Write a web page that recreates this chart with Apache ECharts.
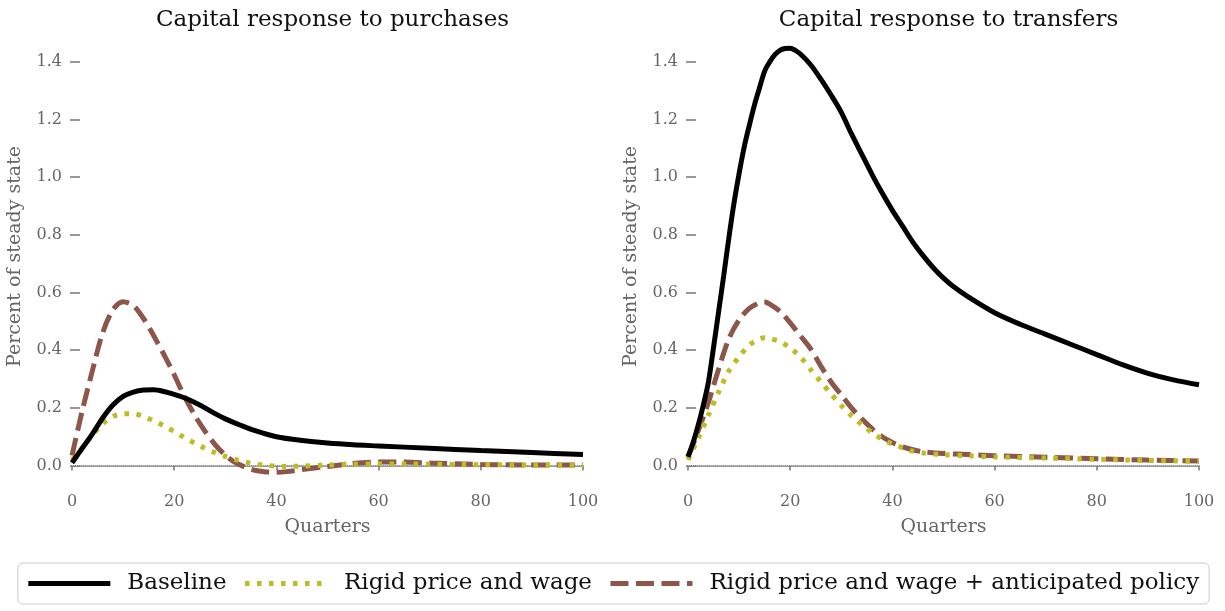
<!DOCTYPE html>
<html>
<head>
<meta charset="utf-8">
<script src="https://cdn.jsdelivr.net/npm/echarts@6/dist/echarts.min.js"></script>
<style>html,body{margin:0;padding:0;background:#fff}#c{width:1225px;height:611px}</style>
</head>
<body>
<div id="c"></div>
<script>
// ---- Data (Quarters, percent of steady state) ----
const seriesNames = ['Baseline', 'Rigid price and wage', 'Rigid price and wage + anticipated policy'];
const panelTitles = ['Capital response to purchases', 'Capital response to transfers'];
const yTicks = [0, 0.2, 0.4, 0.6, 0.8, 1.0, 1.2, 1.4];

// Left panel: purchases
const purchBaseQ = [0,2,4,6,8,10,12,14,16,18,20,22,25,28,30,33,36,40,45,50,55,60,70,80,90,100];
const purchBaseV = [0.01,0.06,0.11,0.165,0.21,0.24,0.255,0.262,0.263,0.257,0.247,0.235,0.21,0.18,0.162,0.14,0.12,0.10,0.087,0.078,0.072,0.068,0.06,0.052,0.045,0.038];
const purchRigidQ = [0,2,4,6,8,10,12,14,16,18,20,22,24,26,28,30,32,34,36,38,40,42,45,50,55,60,70,80,90,100];
const purchRigidV = [0.02,0.06,0.105,0.145,0.17,0.18,0.18,0.17,0.155,0.138,0.118,0.097,0.078,0.06,0.045,0.032,0.021,0.012,0.005,0.001,-0.002,-0.003,-0.002,0.002,0.005,0.006,0.005,0.003,0.002,0.001];
const purchAntQ = [0,2,4,6,8,10,12,14,16,18,20,22,24,26,28,30,32,34,36,38,40,42,45,50,55,60,65,70,80,90,100];
const purchAntV = [0.035,0.19,0.33,0.46,0.54,0.568,0.555,0.51,0.45,0.385,0.315,0.24,0.175,0.12,0.073,0.036,0.01,-0.006,-0.017,-0.022,-0.023,-0.021,-0.014,-0.003,0.007,0.012,0.012,0.009,0.004,0.002,0.002];

// Right panel: transfers
const transBaseQ = [0,1,2,3,4,5,6,7,8,9,10,11,12,13,14,15,16,17,18,19,20,21,22,24,26,28,30,32,34,36,38,40,42,44,46,48,50,52,55,60,65,70,75,80,85,90,95,100];
const transBaseV = [0.03,0.08,0.14,0.21,0.29,0.41,0.535,0.66,0.79,0.91,1.013,1.105,1.18,1.25,1.31,1.368,1.40,1.425,1.44,1.446,1.447,1.44,1.427,1.39,1.34,1.285,1.225,1.15,1.08,1.01,0.945,0.885,0.83,0.775,0.728,0.686,0.65,0.62,0.583,0.53,0.49,0.455,0.42,0.385,0.35,0.32,0.297,0.28];
const transRigidQ = [0,2,4,6,8,10,12,14,15,16,18,20,22,24,26,28,30,32,34,36,38,40,42,44,46,50,55,60,70,80,90,100];
const transRigidV = [0.02,0.095,0.175,0.255,0.328,0.377,0.418,0.44,0.443,0.44,0.43,0.408,0.377,0.333,0.29,0.249,0.208,0.173,0.143,0.114,0.092,0.075,0.062,0.05,0.044,0.038,0.034,0.03,0.026,0.022,0.018,0.015];
const transAntQ = [0,2,4,6,8,10,12,14,15,16,18,20,22,24,26,28,30,32,34,36,38,40,42,44,46,50,55,60,70,80,90,100];
const transAntV = [0.03,0.12,0.22,0.335,0.44,0.505,0.545,0.565,0.567,0.56,0.535,0.495,0.45,0.405,0.345,0.29,0.245,0.2,0.162,0.128,0.1,0.08,0.065,0.055,0.048,0.042,0.038,0.034,0.029,0.024,0.019,0.016];

// ---- Build ----
const zip = (q, v) => q.map((x, i) => [x, v[i]]);
const FONT = 'DejaVu Serif';
const GREY = '#666';
const colors = ['#000000', '#bcbd22', '#8c564b'];
const lineStyles = [
  { width: 5, type: 'solid' },
  { width: 5, type: [4.5, 7.5], cap: 'butt' },
  { width: 5, type: [18, 7.5], cap: 'butt' }
];
const panels = [
  [zip(purchBaseQ, purchBaseV), zip(purchRigidQ, purchRigidV), zip(purchAntQ, purchAntV)],
  [zip(transBaseQ, transBaseV), zip(transRigidQ, transRigidV), zip(transAntQ, transAntV)]
];
const gridLefts = [72, 688];
const gridW = 511;

const grids = gridLefts.map(l => ({ left: l, width: gridW, top: 33, height: 447 }));
const xAxes = gridLefts.map((l, i) => ({
  type: 'value', gridIndex: i, min: 0, max: 100, interval: 20,
  name: 'Quarters', nameLocation: 'middle', nameGap: 38,
  nameTextStyle: { fontFamily: FONT, fontSize: 19, color: GREY },
  axisLine: { show: true, lineStyle: { color: '#777', width: 1.5 } },
  axisTick: { show: true, length: 5, lineStyle: { color: '#777', width: 1.5 } },
  axisLabel: { fontFamily: FONT, fontSize: 16, color: GREY, margin: 14 },
  splitLine: { show: false }
}));
const yAxes = gridLefts.map((l, i) => ({
  type: 'value', gridIndex: i, min: -0.05, max: 1.5, offset: -8,
  name: 'Percent of steady state', nameLocation: 'middle', nameGap: 55,
  nameTextStyle: { fontFamily: FONT, fontSize: 19, color: GREY },
  axisLine: { show: false },
  axisTick: { show: true, length: 10, customValues: yTicks, lineStyle: { color: '#777', width: 1.5 } },
  axisLabel: { fontFamily: FONT, fontSize: 16, color: GREY, margin: 18, customValues: yTicks,
    formatter: v => v.toFixed(1) },
  splitLine: { show: false }
}));

const series = [];
panels.forEach((pdata, pi) => {
  pdata.forEach((d, si) => {
    series.push({
      name: seriesNames[si], type: 'line', xAxisIndex: pi, yAxisIndex: pi,
      data: d, smooth: 0.3, showSymbol: false, symbol: 'none',
      color: colors[si], lineStyle: Object.assign({ color: colors[si] }, lineStyles[si]),
      z: 3 - si + 2,
      markLine: si === 0 ? {
        silent: true, symbol: 'none', label: { show: false }, z: 1,
        lineStyle: { color: '#c8c8c8', type: 'dotted', width: 1 },
        data: [{ yAxis: 0 }]
      } : undefined
    });
  });
});

const chart = echarts.init(document.getElementById('c'), null, { renderer: 'canvas' });
chart.setOption({
  animation: false,
  backgroundColor: '#fff',
  title: panelTitles.map((t, i) => ({
    text: t, left: gridLefts[i] + gridW / 2, top: 4, textAlign: 'center',
    textStyle: { fontFamily: FONT, fontSize: 23, fontWeight: 'normal', color: '#111' }
  })),
  legend: {
    data: seriesNames, left: 'center', top: 563,
    itemWidth: 82, itemHeight: 12, itemGap: 16,
    padding: [9, 10, 9, 8],
    borderColor: '#ccc', borderWidth: 1, borderRadius: 5,
    itemStyle: { opacity: 0 },
    lineStyle: { width: 5 },
    textStyle: { fontFamily: FONT, fontSize: 23, color: '#111', padding: [0, 0, 0, 12] }
  },
  grid: grids, xAxis: xAxes, yAxis: yAxes, series: series
});
</script>
</body>
</html>
